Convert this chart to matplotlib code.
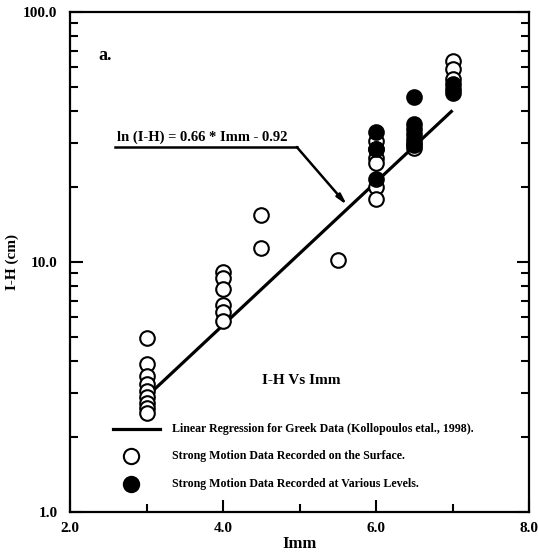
import matplotlib
matplotlib.use("Agg")
import matplotlib.pyplot as plt
from matplotlib.ticker import FixedLocator, NullFormatter, LogLocator

plt.rcParams['font.family'] = ['Liberation Serif', 'DejaVu Serif']
plt.rcParams['font.weight'] = 'bold'

# Surface (open) data
open_x = [3, 3, 3, 3, 3, 3, 3, 3, 3,
          4, 4, 4, 4, 4, 4,
          4.5, 4.5,
          5.5,
          6, 6, 6, 6, 6, 6,
          6.5, 6.5,
          7, 7, 7]
open_y = [4.95, 3.9, 3.5, 3.25, 3.05, 2.88, 2.73, 2.6, 2.5,
          9.1, 8.6, 7.8, 6.7, 6.3, 5.8,
          15.4, 11.4,
          10.2,
          30.5, 28.3, 26.0, 24.8, 20.0, 17.9,
          30.0, 28.6,
          63.5, 59.0, 54.0]
# Various levels (filled) data
fill_x = [6, 6, 6, 6.5, 6.5, 6.5, 6.5, 6.5, 6.5, 7, 7, 7]
fill_y = [33.0, 28.2, 21.5, 45.5, 35.5, 34.0, 32.5, 31.0, 29.5, 51.5, 49.0, 47.5]

# Regression line endpoints (ln(I-H) = 0.66*Imm - 0.92)
reg_x = [3.0, 7.0]
reg_y = [2.89, 40.4]

x_ticks = [2.0, 4.0, 6.0, 8.0]
x_ticklabels = ['2.0', '4.0', '6.0', '8.0']
y_ticks = [1.0, 10.0, 100.0]
y_ticklabels = ['1.0', '10.0', '100.0']

fig = plt.figure(figsize=(5.38, 5.56), dpi=100)
ax = fig.add_axes([70/538, 44/556, 459/538, 500/556])

ax.plot(reg_x, reg_y, color='black', lw=2.3, solid_capstyle='butt')
ax.plot(open_x, open_y, 'o', ms=10.5, mfc='white', mec='black', mew=1.5, ls='none')
ax.plot(fill_x, fill_y, 'o', ms=10.5, mfc='black', mec='black', mew=1.5, ls='none')

ax.set_yscale('log')
ax.set_xlim(2, 8)
ax.set_ylim(1, 100)
ax.set_xticks(x_ticks)
ax.set_xticklabels(x_ticklabels)
ax.xaxis.set_minor_locator(FixedLocator([3, 5, 7]))
ax.set_yticks(y_ticks)
ax.set_yticklabels(y_ticklabels)
ax.yaxis.set_minor_locator(LogLocator(base=10, subs=range(2, 10)))
ax.yaxis.set_minor_formatter(NullFormatter())
ax.tick_params(axis='both', which='major', direction='in', length=9, width=1.5,
               labelsize=11, right=True, top=False)
ax.tick_params(axis='both', which='minor', direction='in', length=6, width=1.5,
               right=True, top=False)
ax.tick_params(axis='x', which='major', pad=7)
ax.tick_params(axis='y', which='major', pad=9)
for lab in ax.get_xticklabels() + ax.get_yticklabels():
    lab.set_fontweight('bold')
for s in ax.spines.values():
    s.set_linewidth(1.6)

ax.set_xlabel('Imm', fontsize=12, fontweight='bold', labelpad=1)
ax.set_ylabel('I-H (cm)', fontsize=11, fontweight='bold', labelpad=3)

# panel label
ax.text(0.061, 0.912, 'a.', transform=ax.transAxes, fontsize=13, fontweight='bold',
        va='center', ha='left')

# regression annotation
ax.text(0.102, 0.735, 'ln (I-H) = 0.66 * Imm - 0.92', transform=ax.transAxes,
        fontsize=10.5, fontweight='bold', va='bottom', ha='left')
ax.plot([0.098, 0.494], [0.73, 0.73], transform=ax.transAxes, color='black', lw=1.8,
        clip_on=False)
ax.annotate('', xy=(5.62, 16.9), xycoords='data',
            xytext=(0.494, 0.73), textcoords='axes fraction',
            arrowprops=dict(arrowstyle='-|>,head_length=0.6,head_width=0.15',
                            color='black', lw=1.8, shrinkA=0, shrinkB=0))

# title and legend
ax.text(0.503, 0.262, 'I-H Vs Imm', transform=ax.transAxes, fontsize=11,
        fontweight='bold', ha='center', va='center')
ax.plot([0.093, 0.197], [0.166, 0.166], transform=ax.transAxes, color='black', lw=2.3)
ax.plot([0.132], [0.112], 'o', transform=ax.transAxes, ms=11, mfc='white', mec='black', mew=1.5)
ax.plot([0.132], [0.056], 'o', transform=ax.transAxes, ms=11, mfc='black', mec='black', mew=1.5)
leg_texts = ['Linear Regression for Greek Data (Kollopoulos etal., 1998).',
             'Strong Motion Data Recorded on the Surface.',
             'Strong Motion Data Recorded at Various Levels.']
for t, yy in zip(leg_texts, [0.166, 0.112, 0.056]):
    ax.text(0.222, yy, t, transform=ax.transAxes, fontsize=8.6, fontweight='bold',
            ha='left', va='center')

fig.savefig('out.png', dpi=100)
